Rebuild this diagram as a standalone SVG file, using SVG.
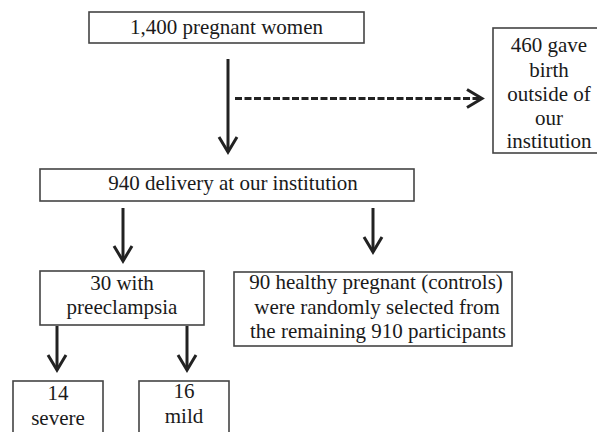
<svg xmlns="http://www.w3.org/2000/svg" width="597" height="432" viewBox="0 0 597 432">
<style>
  .box { fill: #ffffff; stroke: #444444; stroke-width: 1.6; }
  .t { font-family: 'Liberation Serif', 'Times New Roman', 'DejaVu Serif', serif; font-size: 21px; fill: #1a1a1a; text-anchor: middle; }
  .arr { fill: none; stroke: #222222; stroke-width: 3; }
  .dash { stroke-dasharray: 7 2.5; }
</style>
<defs>
  <marker id="head" markerUnits="userSpaceOnUse" markerWidth="24" markerHeight="24" viewBox="-20 -12 24 24" refX="0" refY="0" orient="auto">
    <path d="M -15,-9 L 0,0 L -15,9" fill="none" stroke="#222222" stroke-width="3"/>
  </marker>
</defs>
<rect width="597" height="432" fill="#ffffff"/>

<g id="n-total">
  <rect class="box" x="89" y="12" width="275" height="31"/>
  <text class="t" x="226.5" y="34">1,400 pregnant women</text>
</g>

<g id="n-outside">
  <rect class="box" x="493" y="28" width="110" height="125"/>
  <text class="t" x="549" y="52">460 gave</text>
  <text class="t" x="549" y="77">birth</text>
  <text class="t" x="549" y="101">outside of</text>
  <text class="t" x="549" y="125">our</text>
  <text class="t" x="549" y="148">institution</text>
</g>

<g id="n-delivery">
  <rect class="box" x="40" y="169" width="374" height="32"/>
  <text class="t" x="233" y="190">940 delivery at our institution</text>
</g>

<g id="n-preeclampsia">
  <rect class="box" x="40" y="271" width="164" height="54"/>
  <text class="t" x="122" y="290">30 with</text>
  <text class="t" x="122" y="314">preeclampsia</text>
</g>

<g id="n-controls">
  <rect class="box" x="234" y="272" width="278" height="74"/>
  <text class="t" x="376" y="289">90 healthy pregnant (controls)</text>
  <text class="t" x="377" y="314">were randomly selected from</text>
  <text class="t" x="378" y="338">the remaining 910 participants</text>
</g>

<g id="n-severe">
  <rect class="box" x="13" y="381" width="90" height="60"/>
  <text class="t" x="58" y="400">14</text>
  <text class="t" x="58" y="425">severe</text>
</g>

<g id="n-mild">
  <rect class="box" x="139" y="381" width="90" height="60"/>
  <text class="t" x="184" y="398">16</text>
  <text class="t" x="184" y="423">mild</text>
</g>

<g id="connectors">
  <line class="arr" x1="228" y1="59" x2="228" y2="152" marker-end="url(#head)"/>
  <line class="arr dash" x1="235" y1="98.5" x2="482" y2="98.5" marker-end="url(#head)"/>
  <line class="arr" x1="123" y1="208" x2="123" y2="261" marker-end="url(#head)"/>
  <line class="arr" x1="373" y1="208" x2="373" y2="252" marker-end="url(#head)"/>
  <line class="arr" x1="57" y1="326" x2="57" y2="370" marker-end="url(#head)"/>
  <line class="arr" x1="187" y1="326" x2="187" y2="370" marker-end="url(#head)"/>
</g>
</svg>
